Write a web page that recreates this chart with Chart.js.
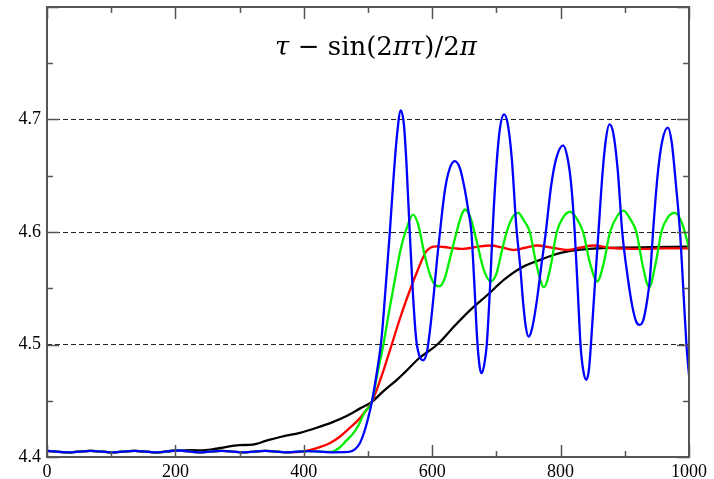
<!DOCTYPE html>
<html>
<head>
<meta charset="utf-8">
<script src="https://cdn.jsdelivr.net/npm/chart.js@4.4.1/dist/chart.umd.min.js"></script>
<style>
  html, body { margin: 0; padding: 0; background: #ffffff; }
  #wrap { position: relative; width: 714px; height: 479px; overflow: hidden; }
  #title { position: absolute; left: 265px; top: 31px; width: 222px; text-align: center;
           font-family: "DejaVu Serif", "Liberation Serif", serif; font-size: 26px; line-height: 30px; color: #000; white-space: nowrap; }
  #title i { font-style: italic; }
</style>
</head>
<body>
<div id="wrap">
  <canvas id="c" width="714" height="479"></canvas>
  <div id="title"><i>τ</i> − sin(2<i>πτ</i>)/2<i>π</i></div>
</div>
<script>
// ---- data ----
const xTickLabels = ["0", "200", "400", "600", "800", "1000"];
const yTickLabels = ["4.4", "4.5", "4.6", "4.7"];
const dashedLevels = [4.5, 4.6, 4.7];

const blueX = [0,34,68,102,136,170,204,238,272,306,340,374,408,442,470,480,487,494,500,506,514,521,527,534,540,545,551,556,560,565,570,575,580,586,592,597,602,608,614,620,627,635,643,650,656,661,666,670,674,677,681,685,690,694,699,705,712,718,724,731,737,742,746,750,755,762,770,777,785,793,804,810,816,822,827,831,835,840,844,847,853,859,865,870,876,882,889,896,905,912,918,923,929,935,939,944,951,958,967,973,980,986,992,996,1000];
const blueY = [4.4055,4.4042,4.4055,4.4042,4.4055,4.4042,4.4058,4.4042,4.4055,4.4042,4.4055,4.4042,4.4052,4.4042,4.4045,4.407,4.412,4.422,4.434,4.449,4.476,4.505,4.547,4.60,4.65,4.685,4.708,4.695,4.66,4.60,4.545,4.505,4.49,4.486,4.494,4.515,4.542,4.578,4.61,4.638,4.656,4.663,4.657,4.64,4.62,4.60,4.55,4.505,4.48,4.4745,4.482,4.50,4.55,4.60,4.65,4.69,4.7045,4.695,4.665,4.605,4.57,4.535,4.515,4.507,4.513,4.535,4.57,4.60,4.64,4.665,4.677,4.668,4.645,4.60,4.545,4.50,4.478,4.4686,4.477,4.498,4.55,4.60,4.65,4.68,4.6956,4.688,4.655,4.60,4.558,4.533,4.52,4.5175,4.522,4.54,4.558,4.60,4.65,4.68,4.6927,4.68,4.64,4.60,4.54,4.50,4.473];

const greenX = [0,34,68,102,136,170,204,238,272,306,340,374,408,443,455,467,477,485,495,506,515,524,533,542,551,560,570,578,588,596,603,611,619,627,638,645,651,660,670,680,691,700,708,716,725,734,743,752,762,774,784,794,804,815,825,835,846,857,867,877,888,898,908,918,928,938,948,957,967,978,989,998,1000];
const greenY = [4.4055,4.4042,4.4055,4.4042,4.4055,4.4042,4.4058,4.4042,4.4055,4.4042,4.4055,4.4042,4.4052,4.4045,4.408,4.415,4.421,4.428,4.44,4.449,4.475,4.50,4.53,4.558,4.585,4.603,4.6155,4.607,4.58,4.563,4.554,4.5517,4.558,4.575,4.60,4.614,4.62,4.612,4.59,4.567,4.556,4.563,4.582,4.60,4.613,4.617,4.61,4.60,4.572,4.551,4.568,4.60,4.613,4.618,4.612,4.60,4.572,4.556,4.572,4.60,4.614,4.619,4.612,4.60,4.57,4.551,4.572,4.60,4.613,4.617,4.608,4.59,4.585];

const redX = [0,34,68,102,136,170,204,238,272,306,340,374,400,412,425,441,456,470,485,495,506,520,537,548,560,576,591,607,625,648,670,691,710,727,745,763,787,811,830,852,875,900,930,960,1000];
const redY = [4.4055,4.4042,4.4055,4.4042,4.4055,4.4042,4.4058,4.4042,4.4055,4.4042,4.4055,4.4042,4.405,4.4066,4.4088,4.4124,4.418,4.425,4.433,4.440,4.449,4.47,4.50,4.52,4.54,4.564,4.583,4.5873,4.5862,4.585,4.5868,4.588,4.586,4.584,4.586,4.588,4.586,4.584,4.586,4.588,4.586,4.5852,4.585,4.5855,4.5855];

const blackX = [0,34,68,102,136,170,204,225,243,270,300,320,342,365,394,420,445,465,487,506,525,545,556,580,608,634,660,686,712,738,769,800,831,860,894,940,1000];
const blackY = [4.4055,4.4042,4.4055,4.4042,4.4055,4.4042,4.4058,4.406,4.4058,4.408,4.4105,4.411,4.4145,4.418,4.4215,4.426,4.431,4.436,4.443,4.449,4.459,4.4686,4.4745,4.488,4.50,4.516,4.531,4.544,4.5576,4.568,4.5754,4.5814,4.5843,4.5855,4.5861,4.5865,4.587];

// ---- build datasets ----
function pts(xs, ys) { return xs.map((x, i) => ({ x: x, y: ys[i] })); }
function ds(xs, ys, color) {
  return { data: pts(xs, ys), borderColor: color, borderWidth: 2.3, pointRadius: 0,
           fill: false, cubicInterpolationMode: 'monotone' };
}

const near = (a, b) => Math.abs(a - b) < 1e-6;

const frameTicks = {
  id: 'frameTicks',
  afterDraw(chart) {
    const { ctx, chartArea: a, scales } = chart;
    const xs = scales.x, ys = scales.y;
    ctx.save();
    ctx.strokeStyle = '#555555';
    ctx.lineWidth = 1.5;
    ctx.beginPath();
    for (let v = 0; v <= 1000; v += 100) {
      const px = Math.round(xs.getPixelForValue(v)) + 0.5;
      const len = (v % 200 === 0) ? 12 : 6;
      ctx.moveTo(px, a.bottom); ctx.lineTo(px, a.bottom - len);
      ctx.moveTo(px, a.top); ctx.lineTo(px, a.top + len);
    }
    for (let k = 0; k <= 8; k++) {
      const v = 4.4 + k * 0.05;
      const py = Math.round(ys.getPixelForValue(v)) + 0.5;
      const len = (k % 2 === 0) ? 12 : 6;
      ctx.moveTo(a.left, py); ctx.lineTo(a.left + len, py);
      ctx.moveTo(a.right, py); ctx.lineTo(a.right - len, py);
    }
    ctx.stroke();
    ctx.lineWidth = 2;
    ctx.strokeRect(a.left, a.top, a.right - a.left, a.bottom - a.top);
    ctx.restore();
  }
};

new Chart(document.getElementById('c'), {
  type: 'line',
  data: {
    datasets: [
      ds(blueX, blueY, '#0000ff'),
      ds(greenX, greenY, '#00ee00'),
      ds(redX, redY, '#ff0000'),
      ds(blackX, blackY, '#000000')
    ]
  },
  options: {
    responsive: false,
    animation: false,
    layout: { padding: { top: 7, right: 25, left: 0, bottom: 0 } },
    plugins: { legend: { display: false }, tooltip: { enabled: false }, title: { display: false } },
    scales: {
      x: {
        type: 'linear', min: 0, max: 1000,
        afterFit(s) { s.height = 22; s.paddingLeft = 0; s.paddingRight = 0; },
        border: { display: false },
        grid: { display: false, drawTicks: false },
        ticks: {
          stepSize: 200, padding: 4, color: '#000', maxRotation: 0,
          font: { family: 'Liberation Serif', size: 18 },
          callback: (v) => { const i = Math.round(v / 200); return near(v, i * 200) ? xTickLabels[i] : ''; }
        }
      },
      y: {
        type: 'linear', min: 4.4, max: 4.8,
        afterFit(s) { s.width = 47; s.paddingTop = 0; s.paddingBottom = 0; },
        border: { display: false, dash: [5, 3] },
        grid: {
          drawTicks: false,
          color: (c) => dashedLevels.some(l => near(c.tick.value, l)) ? '#222222' : 'rgba(0,0,0,0)',
          lineWidth: 1
        },
        ticks: {
          stepSize: 0.1, padding: 6, color: '#000',
          font: { family: 'Liberation Serif', size: 18 },
          callback: (v) => { const i = Math.round((v - 4.4) * 10); return (i >= 0 && i < yTickLabels.length && near(v, 4.4 + i * 0.1)) ? yTickLabels[i] : ''; }
        }
      }
    }
  },
  plugins: [frameTicks]
});
</script>
</body>
</html>
